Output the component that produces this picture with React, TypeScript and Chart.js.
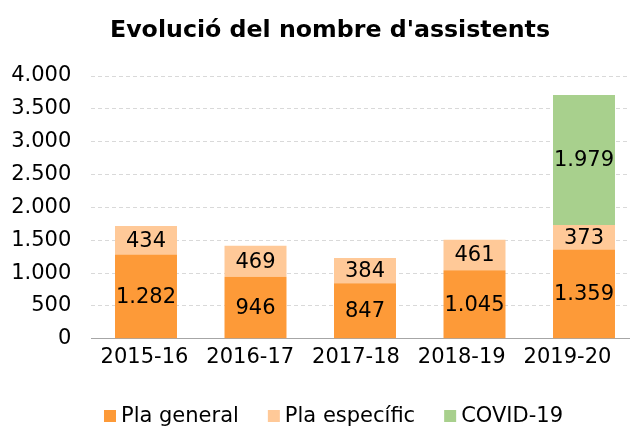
import React, { useEffect, useRef } from "react";
import { Chart, registerables } from "chart.js";

Chart.register(...registerables);

const categories = ["2015-16", "2016-17", "2017-18", "2018-19", "2019-20"];
const plaGeneral = [1282, 946, 847, 1045, 1359];
const plaEspecific = [434, 469, 384, 461, 373];
const covid = [null, null, null, null, 1979];
const seriesNames = ["Pla general", "Pla específic", "COVID-19"];
const seriesColors = ["#FD9A38", "#FFC998", "#A8D08D"];
const titleText = "Evolució del nombre d'assistents";

const FONT = "'DejaVu Sans', Verdana, sans-serif";

function fmt(v: number): string {
  return Math.round(v).toString().replace(/\B(?=(\d{3})+(?!\d))/g, ".");
}

const labelPlugin = {
  id: "segLabels",
  afterDatasetsDraw(chart: any) {
    const ctx = chart.ctx;
    ctx.save();
    ctx.font = `21px ${FONT}`;
    ctx.fillStyle = "#000000";
    ctx.textAlign = "center";
    ctx.textBaseline = "middle";
    chart.data.datasets.forEach((ds: any, i: number) => {
      const meta = chart.getDatasetMeta(i);
      meta.data.forEach((bar: any, j: number) => {
        const v = ds.data[j];
        if (v == null) return;
        const y = (bar.y + bar.base) / 2;
        ctx.fillText(fmt(v), bar.x, y + 1);
      });
    });
    ctx.restore();
  },
};

const titleLegendPlugin = {
  id: "titleLegend",
  afterDraw(chart: any) {
    const ctx = chart.ctx;
    const cx = chart.width / 2 + 12;
    ctx.save();
    // title
    ctx.font = `bold 23.7px ${FONT}`;
    ctx.fillStyle = "#000000";
    ctx.textAlign = "center";
    ctx.textBaseline = "middle";
    ctx.fillText(titleText, cx - 2, 31);
    // legend
    ctx.font = `21px ${FONT}`;
    const box = 12;
    const gap = 5;
    const spacing = 29;
    const widths = seriesNames.map((n) => box + gap + ctx.measureText(n).width);
    const total = widths.reduce((a, b) => a + b, 0) + spacing * (seriesNames.length - 1);
    let x = cx + 1.5 - total / 2;
    const baseY = chart.height - 5;
    ctx.textBaseline = "alphabetic";
    ctx.textAlign = "left";
    seriesNames.forEach((n, i) => {
      ctx.fillStyle = seriesColors[i];
      ctx.fillRect(x, baseY - box, box, box);
      ctx.fillStyle = "#000000";
      ctx.fillText(n, x + box + gap, baseY);
      x += widths[i] + spacing;
    });
    ctx.restore();
  },
};

export default function App() {
  const ref = useRef<HTMLCanvasElement | null>(null);
  useEffect(() => {
    if (!ref.current) return;
    const data = [plaGeneral, plaEspecific, covid];
    const chart = new Chart(ref.current, {
      type: "bar",
      data: {
        labels: categories,
        datasets: data.map((d, i) => ({
          label: seriesNames[i],
          data: d as any,
          backgroundColor: seriesColors[i],
          borderWidth: 0,
          categoryPercentage: 1,
          barPercentage: 0.566,
        })),
      },
      options: {
        animation: false,
        responsive: false,
        maintainAspectRatio: false,
        layout: { padding: { left: 4, right: 1.25, top: 76, bottom: 51 } },
        plugins: {
          title: { display: false },
          legend: { display: false },
          tooltip: { enabled: false },
        },
        scales: {
          x: {
            stacked: true,
            grid: { display: false, drawTicks: false },
            border: { display: true, color: "#A6A6A6", width: 1 },
            ticks: { display: false },
          },
          x2: {
            type: "linear",
            position: "bottom",
            offset: false,
            min: -0.5035,
            max: 4.674,
            grid: { display: false, drawTicks: false, offset: false },
            border: { display: false },
            ticks: {
              stepSize: 1,
              includeBounds: false,
              autoSkip: false,
              maxRotation: 0,
              color: "#000000",
              font: { family: FONT, size: 21 },
              padding: 6,
              callback: (v: any) => (Number.isInteger(v) && categories[v] ? categories[v] : ""),
            },
          },
          y: {
            stacked: true,
            min: 0,
            max: 4000,
            grid: { color: "#D9D9D9", lineWidth: 1, drawTicks: false },
            border: { display: false, dash: [4, 3] },
            afterFit: (scale: any) => {
              scale.width = 87.25;
            },
            ticks: {
              stepSize: 500,
              color: "#000000",
              font: { family: FONT, size: 21 },
              padding: 20,
              callback: (v: any) => fmt(Number(v)),
            },
          },
        } as any,
      },
      plugins: [labelPlugin, titleLegendPlugin],
    });
    return () => chart.destroy();
  }, []);
  return (
    <div style={{ position: "fixed", left: 0, top: 0, width: 640, height: 427, background: "#fff" }}>
      <canvas ref={ref} width={640} height={427} style={{ width: 640, height: 427 }} />
    </div>
  );
}
